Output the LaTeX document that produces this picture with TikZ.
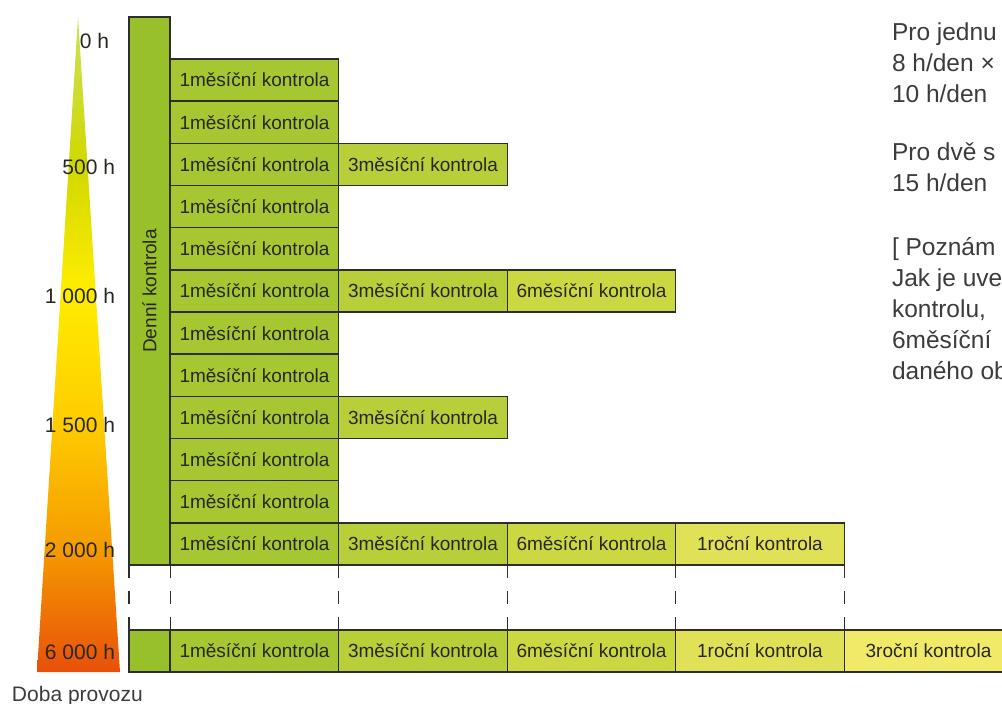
\documentclass[tikz,border=0pt]{standalone}
\usepackage{fontspec}
\setmainfont{Liberation Sans}
\usetikzlibrary{positioning}

\definecolor{edge}{RGB}{45,45,45}
\definecolor{ink}{RGB}{40,40,30}
\definecolor{notegray}{RGB}{60,60,60}
\definecolor{cden}{RGB}{152,192,42}
\definecolor{cm}{RGB}{166,198,50}
\definecolor{cq}{RGB}{184,207,58}
\definecolor{ch}{RGB}{204,216,66}
\definecolor{cy}{RGB}{224,225,86}
\definecolor{ct}{RGB}{240,234,104}
\definecolor{tipPale}{RGB}{205,225,90}
\definecolor{tipLime}{RGB}{208,216,0}
\definecolor{tipYellow}{RGB}{255,237,0}
\definecolor{tipAmber}{RGB}{255,205,0}
\definecolor{tipOrange}{RGB}{245,155,0}
\definecolor{tipRed}{RGB}{232,80,10}

\pgfdeclareverticalshading{provoz}{100bp}{color(0bp)=(tipRed); color(25bp)=(tipRed); color(34.5bp)=(tipOrange); color(44.2bp)=(tipAmber); color(54.2bp)=(tipYellow); color(63.7bp)=(tipLime); color(75bp)=(tipPale); color(100bp)=(tipPale)}

\begin{document}
\begin{tikzpicture}[x=1pt,y=-1pt,node distance=0pt,
    every node/.style={inner sep=0,outer sep=0},
    ctrlbox/.style={draw=edge,line width=1.4pt,minimum width=168.5pt,minimum height=42.17pt,font=\fontsize{19}{22}\selectfont,text=ink},
    mon1/.style={ctrlbox,fill=cm},
    mon3/.style={ctrlbox,fill=cq},
    mon6/.style={ctrlbox,fill=ch},
    yr1/.style={ctrlbox,fill=cy},
    yr3/.style={ctrlbox,fill=ct},
    daily/.style={draw=edge,line width=1.4pt,fill=cden,minimum width=41pt},
    hours/.style={anchor=base east,font=\fontsize{21}{24}\selectfont,text=ink},
    note/.style={anchor=base west,font=\fontsize{24.5}{28}\selectfont,text=notegray},
    breakline/.style={draw=edge,line width=1.4pt,dash pattern=on 13pt off 13pt}]

    \useasboundingbox (0,0) rectangle (1002,704);

    % operating time wedge
    \coordinate (tip) at (78,17);
    \coordinate (bl) at (37,672);
    \coordinate (br) at (120,672);
    \shade[shading=provoz] (tip) -- (br) -- (bl) -- cycle;

    % daily check column
    \node[daily,minimum height=548pt] (den) at (149.5,291) {};
    \node[rotate=90,font=\fontsize{19}{22}\selectfont,text=ink] (denlbl) at (den) {Denní kontrola};

    % monthly rows
    \foreach \r in {1,...,12}
        \node[mon1] (m\r) at (254.5,{59+(\r-0.5)*42.17}) {1měsíční kontrola};
    \foreach \r in {3,6,9,12}
        \node[mon3,right=of m\r] (q\r) {3měsíční kontrola};
    \foreach \r in {6,12}
        \node[mon6,right=of q\r] (h\r) {6měsíční kontrola};
    \node[yr1,right=of h12] (y12) {1roční kontrola};

    % 6000 h row
    \node[daily,minimum height=42pt] (denb) at (149.5,651) {};
    \node[mon1,minimum height=42pt] (mb) at (254.5,651) {1měsíční kontrola};
    \node[mon3,minimum height=42pt,right=of mb] (qb) {3měsíční kontrola};
    \node[mon6,minimum height=42pt,right=of qb] (hb) {6měsíční kontrola};
    \node[yr1,minimum height=42pt,right=of hb] (yb) {1roční kontrola};
    \node[yr3,minimum height=42pt,right=of yb] (tb) {3roční kontrola};

    % break between 2000 h and 6000 h
    \foreach \a/\b in {den.south west/denb.north west, m12.south west/mb.north west,
        m12.south east/mb.north east, q12.south east/qb.north east,
        h12.south east/hb.north east, y12.south east/yb.north east}
        \draw[breakline] (\a) -- (\b);

    % hour labels
    \node[hours] (lbl0) at (109,48) {0 h};
    \foreach \t/\yy in {500 h/174, 1 000 h/303, 1 500 h/432, 2 000 h/557, 6 000 h/659}
        \node[hours] (lbl\yy) at (115,\yy) {\t};
    \node[anchor=base west,font=\fontsize{21}{24}\selectfont,text=notegray] (doba) at (12,701) {Doba provozu};

    % notes on the right
    \foreach \t/\yy [count=\i] in {{Pro jednu}/40, {8 h/den ×}/71, {10 h/den}/102,
        {Pro dvě s}/160, {15 h/den}/191,
        {[ Poznám}/255, {Jak je uve}/286, {kontrolu,}/317, {6měsíční}/348, {daného ob}/379}
        \node[note] (note\i) at (892,\yy) {\t};

\end{tikzpicture}
\end{document}
